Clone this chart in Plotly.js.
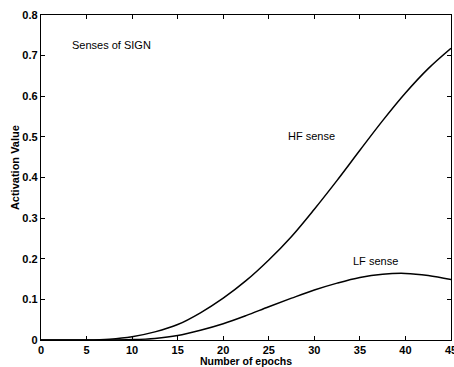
<!DOCTYPE html>
<html>
<head>
<meta charset="utf-8">
<script src="https://cdn.plot.ly/plotly-3.0.1.min.js"></script>
<style>html,body{margin:0;padding:0;background:#fff;}#chart{width:454px;height:367px;}</style>
</head>
<body>
<div id="chart"></div>
<script>
const epochs = [0, 2.5, 5, 7.5, 10, 12.5, 15, 17.5, 20, 22.5, 25, 27.5, 30, 32.5, 35, 37.5, 40, 42.5, 45];
const hfSense = [0, 0, 0, 0.002, 0.008, 0.02, 0.038, 0.067, 0.103, 0.146, 0.197, 0.255, 0.322, 0.393, 0.467, 0.54, 0.608, 0.668, 0.718];
const lfSense = [0, 0, 0, 0, 0.001, 0.004, 0.011, 0.024, 0.04, 0.06, 0.082, 0.103, 0.123, 0.14, 0.154, 0.162, 0.164, 0.159, 0.149];
const xTicks = [0, 5, 10, 15, 20, 25, 30, 35, 40, 45];
const yTicks = [0, 0.1, 0.2, 0.3, 0.4, 0.5, 0.6, 0.7, 0.8];

const fam = 'Liberation Sans, Arial, sans-serif';
const lineStyle = {color: '#000', width: 1.5, shape: 'spline', smoothing: 1};

const traces = [
  {x: epochs, y: hfSense, mode: 'lines', name: 'HF sense', line: lineStyle, showlegend: false},
  {x: epochs, y: lfSense, mode: 'lines', name: 'LF sense', line: lineStyle, showlegend: false}
];

const axisCommon = {
  showgrid: false, zeroline: false, showline: true, linecolor: '#000', linewidth: 1.2,
  mirror: 'ticks', ticks: 'inside', ticklen: 4, tickcolor: '#000', tickwidth: 1,
  ticklabeloverflow: 'allow',
  tickfont: {family: fam, size: 11, color: '#000', weight: 'bold'}
};

const layout = {
  width: 454, height: 367,
  margin: {l: 41, r: 3, t: 15, b: 27},
  paper_bgcolor: '#fff', plot_bgcolor: '#fff',
  font: {family: fam, size: 11, color: '#000'},
  xaxis: Object.assign({}, axisCommon, {
    range: [0, 45], tickvals: xTicks, ticktext: xTicks.map(String),
    title: {text: 'Number of epochs', font: {family: fam, size: 10.5, color: '#000', weight: 'bold'}, standoff: 0}
  }),
  yaxis: Object.assign({}, axisCommon, {
    range: [0, 0.8], tickvals: yTicks, ticktext: yTicks.map(v => v === 0 ? '0' : String(v))
  }),
  annotations: [
    {text: 'Activation Value', xref: 'paper', yref: 'paper', x: -0.065, y: 0.53, textangle: -90,
     showarrow: false, font: {family: fam, size: 11, color: '#000', weight: 'bold'}, xanchor: 'center', yanchor: 'middle'},
    {text: 'Senses of SIGN', xref: 'x', yref: 'y', x: 3.2, y: 0.726, xanchor: 'left', yanchor: 'middle',
     showarrow: false, font: {family: fam, size: 11, color: '#000'}},
    {text: 'HF sense', xref: 'x', yref: 'y', x: 26.9, y: 0.502, xanchor: 'left', yanchor: 'middle',
     showarrow: false, font: {family: fam, size: 11, color: '#000'}},
    {text: 'LF sense', xref: 'x', yref: 'y', x: 34.0, y: 0.195, xanchor: 'left', yanchor: 'middle',
     showarrow: false, font: {family: fam, size: 11, color: '#000'}}
  ]
};

Plotly.newPlot('chart', traces, layout, {displayModeBar: false, staticPlot: true});
</script>
</body>
</html>
